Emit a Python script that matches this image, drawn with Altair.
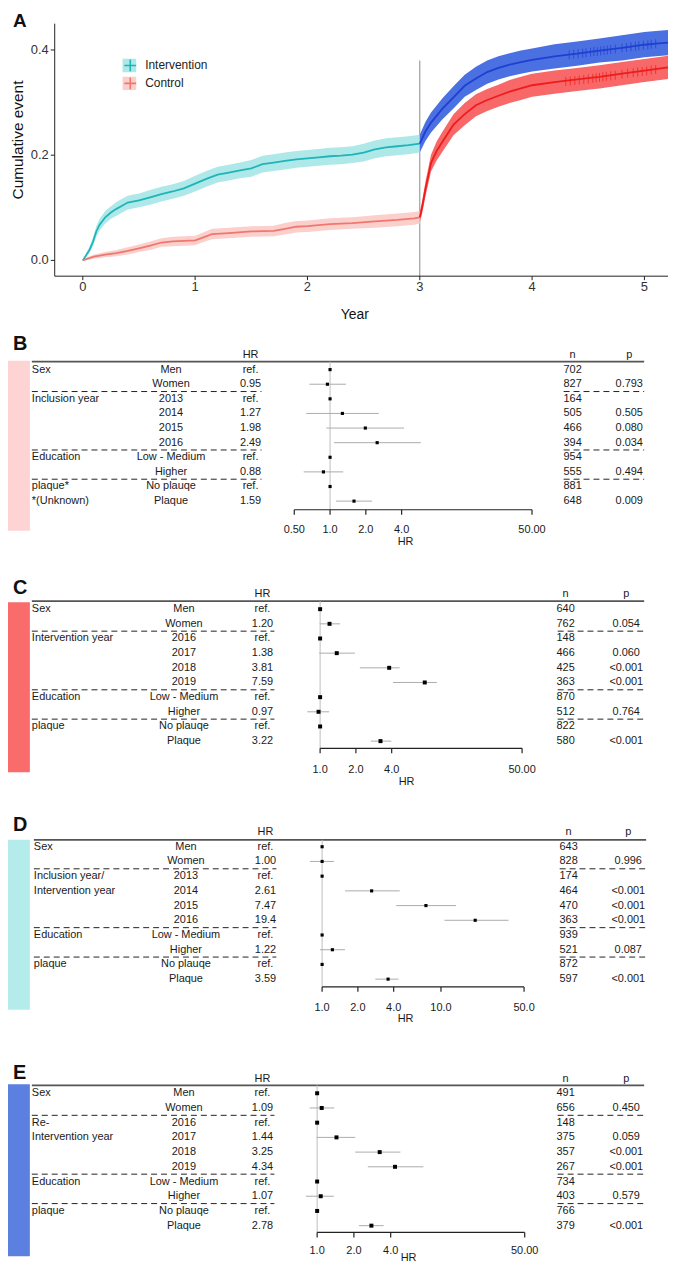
import altair as alt
import pandas as pd

# ---------------- Panel A data ----------------
INT_PRE_T = [0.00,0.03,0.06,0.09,0.12,0.15,0.20,0.25,0.30,0.35,0.40,0.50,0.60,0.70,0.80,0.90,1.00,1.10,1.20,1.30,1.40,1.50,1.60,1.70,1.80,1.90,2.00,2.10,2.20,2.30,2.40,2.50,2.60,2.70,2.80,2.90,3.00]
INT_PRE_Y = [0.000,0.010,0.020,0.035,0.055,0.068,0.082,0.091,0.098,0.104,0.110,0.114,0.120,0.126,0.131,0.137,0.146,0.155,0.163,0.167,0.171,0.175,0.183,0.186,0.189,0.192,0.194,0.196,0.198,0.199,0.201,0.205,0.211,0.215,0.217,0.219,0.222]
INT_PRE_HW = [0.000,0.004,0.006,0.008,0.010,0.011,0.012,0.012,0.013,0.013,0.013,0.013,0.014,0.014,0.014,0.014,0.015,0.015,0.015,0.015,0.015,0.016,0.016,0.016,0.016,0.016,0.016,0.016,0.016,0.016,0.016,0.017,0.017,0.017,0.017,0.017,0.017]

CTL_PRE_T = [0.00,0.05,0.10,0.20,0.30,0.40,0.50,0.60,0.70,0.80,0.90,1.00,1.05,1.15,1.30,1.50,1.70,1.80,1.90,2.00,2.20,2.40,2.60,2.80,2.95,3.00]
CTL_PRE_Y = [0.000,0.004,0.007,0.011,0.014,0.018,0.023,0.028,0.034,0.036,0.037,0.038,0.042,0.050,0.052,0.055,0.056,0.060,0.064,0.065,0.069,0.071,0.074,0.077,0.080,0.082]
CTL_PRE_HW = [0.000,0.003,0.004,0.005,0.006,0.007,0.007,0.008,0.008,0.009,0.009,0.009,0.009,0.010,0.010,0.010,0.010,0.011,0.011,0.011,0.011,0.011,0.012,0.012,0.012,0.012]

INT_POST_T = [3.00,3.05,3.10,3.20,3.30,3.40,3.50,3.60,3.70,3.80,3.90,4.00,4.20,4.40,4.60,4.80,5.00,5.10,5.21]
INT_POST_Y = [0.222,0.245,0.262,0.288,0.310,0.332,0.346,0.358,0.366,0.372,0.377,0.381,0.388,0.393,0.399,0.404,0.410,0.412,0.414]
INT_POST_HW = [0.017,0.018,0.019,0.020,0.021,0.021,0.022,0.022,0.022,0.022,0.022,0.022,0.023,0.023,0.023,0.024,0.024,0.024,0.024]

CTL_POST_T = [3.00,3.02,3.05,3.10,3.15,3.20,3.30,3.40,3.50,3.60,3.70,3.80,3.90,4.00,4.20,4.40,4.60,4.80,5.00,5.21]
CTL_POST_Y = [0.082,0.100,0.135,0.185,0.208,0.225,0.258,0.278,0.295,0.305,0.313,0.321,0.327,0.333,0.339,0.344,0.349,0.355,0.361,0.367]
CTL_POST_HW = [0.010,0.012,0.014,0.016,0.018,0.019,0.020,0.021,0.021,0.021,0.021,0.022,0.022,0.022,0.022,0.022,0.022,0.022,0.022,0.022]

INT_CENS_T = [4.33,4.37,4.41,4.45,4.48,4.52,4.55,4.58,4.61,4.64,4.67,4.70,4.74,4.80,4.84,4.88,4.92,4.95,4.99,5.03,5.06,5.10]
INT_CENS_Y = [0.391,0.392,0.393,0.394,0.395,0.396,0.397,0.397,0.398,0.399,0.400,0.401,0.402,0.404,0.405,0.406,0.407,0.408,0.409,0.410,0.411,0.412]
CTL_CENS_T = [4.30,4.34,4.38,4.42,4.46,4.50,4.54,4.57,4.60,4.63,4.66,4.70,4.74,4.80,4.85,4.90,4.94,4.98,5.02,5.06,5.10]
CTL_CENS_Y = [0.340,0.341,0.342,0.343,0.344,0.345,0.346,0.347,0.348,0.349,0.350,0.351,0.352,0.354,0.356,0.357,0.358,0.359,0.360,0.362,0.363]

VLINE_T = [3.0]
VLINE_TOP = [0.38]
A_XLIM = [-0.25, 5.21]
A_YLIM = [-0.03, 0.45]
A_XTICKS = [0, 1, 2, 3, 4, 5]
A_XLABELS = ["0", "1", "2", "3", "4", "5"]
A_YTICKS = [0.0, 0.2, 0.4]
A_YLABELS = ["0.0", "0.2", "0.4"]

# ---------------- Forest data ----------------
B_C1 = ["Sex", "", "Inclusion year", "", "", "", "Education", "", "plaque*", "*(Unknown)"]
B_C2 = ["Men", "Women", "2013", "2014", "2015", "2016", "Low - Medium", "Higher", "No plauqe", "Plaque"]
B_HR = ["ref.", "0.95", "ref.", "1.27", "1.98", "2.49", "ref.", "0.88", "ref.", "1.59"]
B_N = [702, 827, 164, 505, 466, 394, 954, 555, 881, 648]
B_P = ["", "0.793", "", "0.505", "0.080", "0.034", "", "0.494", "", "0.009"]
B_EST = [1, 0.95, 1, 1.27, 1.98, 2.49, 1, 0.88, 1, 1.59]
B_LO = [None, 0.67, None, 0.63, 0.93, 1.08, None, 0.60, None, 1.12]
B_HI = [None, 1.36, None, 2.57, 4.2, 5.8, None, 1.29, None, 2.25]
B_TICKS = [0.5, 1, 2, 4, 50]
B_TLAB = ["0.50", "1.0", "2.0", "4.0", "50.00"]

C_C1 = ["Sex", "", "Intervention year", "", "", "", "Education", "", "plaque", ""]
C_C2 = ["Men", "Women", "2016", "2017", "2018", "2019", "Low - Medium", "Higher", "No plauqe", "Plaque"]
C_HR = ["ref.", "1.20", "ref.", "1.38", "3.81", "7.59", "ref.", "0.97", "ref.", "3.22"]
C_N = [640, 762, 148, 466, 425, 363, 870, 512, 822, 580]
C_P = ["", "0.054", "", "0.060", "<0.001", "<0.001", "", "0.764", "", "<0.001"]
C_EST = [1, 1.20, 1, 1.38, 3.81, 7.59, 1, 0.97, 1, 3.22]
C_LO = [None, 0.99, None, 0.98, 2.16, 4.1, None, 0.78, None, 2.67]
C_HI = [None, 1.47, None, 1.96, 4.67, 9.6, None, 1.19, None, 3.97]
C_TICKS = [1, 2, 4, 50]
C_TLAB = ["1.0", "2.0", "4.0", "50.00"]

D_C1 = ["Sex", "", "Inclusion year/", "Intervention year", "", "", "Education", "", "plaque", ""]
D_C2 = ["Men", "Women", "2013", "2014", "2015", "2016", "Low - Medium", "Higher", "No plauqe", "Plaque"]
D_HR = ["ref.", "1.00", "ref.", "2.61", "7.47", "19.4", "ref.", "1.22", "ref.", "3.59"]
D_N = [643, 828, 174, 464, 470, 363, 939, 521, 872, 597]
D_P = ["", "0.996", "", "<0.001", "<0.001", "<0.001", "", "0.087", "", "<0.001"]
D_EST = [1, 1.00, 1, 2.61, 7.47, 19.4, 1, 1.22, 1, 3.59]
D_LO = [None, 0.79, None, 1.56, 4.2, 10.7, None, 0.96, None, 2.8]
D_HI = [None, 1.26, None, 4.5, 13.4, 37, None, 1.56, None, 4.4]
D_TICKS = [1, 2, 4, 10, 50]
D_TLAB = ["1.0", "2.0", "4.0", "10.0", "50.0"]

E_C1 = ["Sex", "", "Re-", "Intervention year", "", "", "Education", "", "plaque", ""]
E_C2 = ["Men", "Women", "2016", "2017", "2018", "2019", "Low - Medium", "Higher", "No plauqe", "Plaque"]
E_HR = ["ref.", "1.09", "ref.", "1.44", "3.25", "4.34", "ref.", "1.07", "ref.", "2.78"]
E_N = [491, 656, 148, 375, 357, 267, 734, 403, 766, 379]
E_P = ["", "0.450", "", "0.059", "<0.001", "<0.001", "", "0.579", "", "<0.001"]
E_EST = [1, 1.09, 1, 1.44, 3.25, 4.34, 1, 1.07, 1, 2.78]
E_LO = [None, 0.87, None, 0.99, 2.05, 2.6, None, 0.81, None, 2.2]
E_HI = [None, 1.38, None, 2.05, 4.8, 7.4, None, 1.37, None, 3.5]
E_TICKS = [1, 2, 4, 50]
E_TLAB = ["1.0", "2.0", "4.0", "50.00"]

SEPS = [1, 5, 7]

# ---------------- layout / style ----------------
W, H = 664, 1259
OFF = 8
SANS = "Liberation Sans, Arial, sans-serif"

# ---------------- Panel A ----------------
def sdf(name, t, y, hw):
    return pd.DataFrame({"t": t, "est": y, "hw": hw, "grp": name, "key": name})

dfA = pd.concat([
    sdf("Intervention", INT_PRE_T, INT_PRE_Y, INT_PRE_HW),
    sdf("Control", CTL_PRE_T, CTL_PRE_Y, CTL_PRE_HW),
    sdf("Intervention post", INT_POST_T, INT_POST_Y, INT_POST_HW),
    sdf("Control post", CTL_POST_T, CTL_POST_Y, CTL_POST_HW),
], ignore_index=True)

xA = alt.Scale(domain=A_XLIM, range=[47, 664], nice=False, zero=False)
yA = alt.Scale(domain=A_YLIM, range=[266, 12], nice=False, zero=False)
XA = lambda f: alt.X(f, scale=xA, axis=None)
YA = lambda f: alt.Y(f, scale=yA, axis=None)

leg_common = dict(title=None, orient="none", legendX=115, legendY=47, values=["Intervention", "Control"],
                  symbolSize=196, labelFont=SANS, labelFontSize=12, labelColor="#222",
                  rowPadding=4, padding=0, labelOffset=7, clipHeight=14)

# implicit sorted domain: Control, Control post, Intervention, Intervention post
band = alt.Chart(dfA).transform_calculate(
    lo="datum.est - datum.hw", hi="datum.est + datum.hw"
).mark_area(opacity=1).encode(
    x=XA("t:Q"),
    y=alt.Y("lo:Q", scale=yA, axis=None, stack=None),
    y2="hi:Q",
    fill=alt.Fill("grp:N", scale=alt.Scale(range=["#FBD0CC", "#F86868", "#AEE8E9", "#4A70E2"]),
                  legend=alt.Legend(symbolType="square", symbolStrokeWidth=0, labelExpr="''", **leg_common)),
)

line = alt.Chart(dfA).mark_line(strokeWidth=1.8).encode(
    x=XA("t:Q"),
    y=YA("est:Q"),
    stroke=alt.Stroke("key:N", scale=alt.Scale(range=["#F0776E", "#EE1C1C", "#1EB4B8", "#1F3FD2"]),
                      legend=alt.Legend(symbolType="M-0.85,0H0.85M0,-0.85V0.85", symbolStrokeWidth=1.6,
                                        **leg_common)),
    order="t:Q",
)

vline = alt.Chart(pd.DataFrame({"t": VLINE_T, "top": VLINE_TOP, "bot": [A_YLIM[0]]})).mark_rule(
    color="#8a8a8a", strokeWidth=1).encode(x=XA("t:Q"), y=YA("top:Q"), y2="bot:Q")

cens_int = alt.Chart(pd.DataFrame({"t": INT_CENS_T, "y": INT_CENS_Y})).mark_tick(
    orient="vertical", size=9, thickness=1, color="#1F3FD2").encode(x=XA("t:Q"), y=YA("y:Q"))
cens_ctl = alt.Chart(pd.DataFrame({"t": CTL_CENS_T, "y": CTL_CENS_Y})).mark_tick(
    orient="vertical", size=9, thickness=1, color="#EE1C1C").encode(x=XA("t:Q"), y=YA("y:Q"))

# axes (drawn through the panel's scales)
axdf = pd.DataFrame({"x0": [A_XLIM[0]], "x1": [A_XLIM[1]], "y0": [A_YLIM[0]], "y1": [A_YLIM[1]]})
xdom = alt.Chart(axdf).mark_rule(color="#222", strokeWidth=1).encode(x=XA("x0:Q"), x2="x1:Q", y=YA("y0:Q"))
ydom = alt.Chart(axdf).mark_rule(color="#222", strokeWidth=1).encode(x=XA("x0:Q"), y=YA("y0:Q"), y2="y1:Q")
xt = pd.DataFrame({"t": A_XTICKS, "lab": A_XLABELS})
yt = pd.DataFrame({"v": A_YTICKS, "lab": A_YLABELS})
xticks = alt.Chart(xt).mark_rule(color="#222", strokeWidth=1).encode(
    x=XA("t:Q"), y=alt.value(266), y2=alt.value(270))
xlabs = alt.Chart(xt).mark_text(font=SANS, fontSize=13, color="#333", baseline="middle", align="center").encode(
    x=XA("t:Q"), y=alt.value(277), text="lab:N")
yticks = alt.Chart(yt).mark_rule(color="#222", strokeWidth=1).encode(
    y=YA("v:Q"), x=alt.value(43), x2=alt.value(47))
ylabs = alt.Chart(yt).mark_text(font=SANS, fontSize=13, color="#333", baseline="middle", align="right").encode(
    y=YA("v:Q"), x=alt.value(41), text="lab:N")

one = pd.DataFrame({"v": [1]})
xtitle = alt.Chart(one).mark_text(text="Year", font=SANS, fontSize=14, color="#111", align="center",
                                  baseline="middle").encode(x=alt.value(349), y=alt.value(305))
ytitle = alt.Chart(one).mark_text(text="Cumulative event", font=SANS, fontSize=15.5, color="#111",
                                  align="center", baseline="middle", angle=270).encode(
    x=alt.value(10), y=alt.value(129))
letterA = alt.Chart(one).mark_text(text="A", font=SANS, fontSize=19, fontWeight="bold", align="left",
                                   baseline="top", color="#111").encode(x=alt.value(5), y=alt.value(0))

panelA = alt.layer(vline, band, line, cens_int, cens_ctl, xdom, ydom, xticks, xlabs, yticks, ylabs,
                   xtitle, ytitle, letterA)

# ---------------- Forest panels ----------------
def forest(letter, c1, c2, hr, n, p, est, lo, hi, ticks, tlab, G):
    rows = pd.DataFrame({"row": list(range(10)), "c1": c1, "c2": c2, "hr": hr,
                         "n": [str(v) for v in n], "p": p, "est": est, "lo": lo, "hi": hi})
    ysc = alt.Scale(domain=[0, 9], range=[G["y0"] - OFF, G["y0"] - OFF + 9 * G["step"]], nice=False, zero=False)
    xsc = alt.Scale(type="log", domain=[1, 2], range=[G["ref"] - OFF, G["ref"] - OFF + G["k"]], nice=False)
    Y = lambda f: alt.Y(f, scale=ysc, axis=None)
    X = lambda f: alt.X(f, scale=xsc, axis=None)
    txt = dict(font=SANS, fontSize=11, color="#1a1a1a", baseline="middle")
    base = alt.Chart(rows)
    hdr = alt.Chart(pd.DataFrame({"row": [-1]}))
    L = []
    L.append(alt.Chart(one).mark_rect(color=G["bar"]).encode(
        x=alt.value(0), x2=alt.value(22), y=alt.value(G["bar0"] - OFF), y2=alt.value(G["bar1"] - OFF)))
    L.append(alt.Chart(one).mark_text(text=letter, font=SANS, fontSize=20, fontWeight="bold", align="left",
                                      baseline="alphabetic", color="#111").encode(
        x=alt.value(5), y=alt.value(G["letter"] - OFF)))
    L.append(alt.Chart(one).mark_rule(color="#555", strokeWidth=1.8).encode(
        x=alt.value(G["c1"] - OFF), x2=alt.value(G["right"] - OFF), y=alt.value(G["top"] - OFF)))
    L.append(hdr.mark_text(text="HR", align="center", **txt).encode(x=alt.value(G["hr"] - OFF), y=Y("row:Q")))
    L.append(hdr.mark_text(text="n", align="center", **txt).encode(x=alt.value(G["n"] - OFF), y=Y("row:Q")))
    L.append(hdr.mark_text(text="p", align="center", **txt).encode(x=alt.value(G["p"] - OFF), y=Y("row:Q")))
    L.append(base.mark_text(align="left", **txt).encode(x=alt.value(G["c1"] - OFF), y=Y("row:Q"), text="c1:N"))
    L.append(base.mark_text(align="center", **txt).encode(x=alt.value(G["c2"] - OFF), y=Y("row:Q"), text="c2:N"))
    L.append(base.mark_text(align="center", **txt).encode(x=alt.value(G["hr"] - OFF), y=Y("row:Q"), text="hr:N"))
    L.append(base.mark_text(align="center", **txt).encode(x=alt.value(G["n"] - OFF), y=Y("row:Q"), text="n:N"))
    L.append(base.mark_text(align="center", **txt).encode(x=alt.value(G["p"] - OFF), y=Y("row:Q"), text="p:N"))
    sep = alt.Chart(pd.DataFrame({"after": SEPS})).transform_calculate(ys="datum.after + 0.5")
    L.append(sep.mark_rule(color="#222", strokeWidth=1, strokeDash=[6, 4]).encode(
        x=alt.value(G["c1"] - OFF), x2=alt.value(G["dl"] - OFF), y=Y("ys:Q")))
    L.append(sep.mark_rule(color="#222", strokeWidth=1, strokeDash=[6, 4]).encode(
        x=alt.value(G["dr0"] - OFF), x2=alt.value(G["dr1"] - OFF), y=Y("ys:Q")))
    L.append(alt.Chart(pd.DataFrame({"v": [1]})).mark_rule(color="#bdbdbd", strokeWidth=1).encode(
        x=X("v:Q"), y=alt.value(G["top"] - OFF), y2=alt.value(G["axis"] - OFF)))
    L.append(base.transform_filter("isValid(datum.lo)").mark_rule(color="#ababab", strokeWidth=1).encode(
        x=X("lo:Q"), x2="hi:Q", y=Y("row:Q")))
    L.append(base.mark_square(size=G["pt"], color="#000", opacity=1).encode(x=X("est:Q"), y=Y("row:Q")))
    tk = pd.DataFrame({"tick": ticks, "lab": tlab})
    L.append(alt.Chart(pd.DataFrame({"a0": [ticks[0]], "a1": [ticks[-1]]})).mark_rule(
        color="#222", strokeWidth=1.2).encode(x=X("a0:Q"), x2="a1:Q", y=alt.value(G["axis"] - OFF)))
    L.append(alt.Chart(tk).mark_rule(color="#222", strokeWidth=1.2).encode(
        x=X("tick:Q"), y=alt.value(G["axis"] - OFF), y2=alt.value(G["axis"] - OFF + 5)))
    L.append(alt.Chart(tk).mark_text(align="center", **txt).encode(
        x=X("tick:Q"), y=alt.value(G["tl"] - OFF), text="lab:N"))
    L.append(alt.Chart(one).mark_text(text="HR", align="center", **txt).encode(
        x=alt.value(G["hrt_x"] - OFF), y=alt.value(G["hrt"] - OFF)))
    return alt.layer(*L)

GB = dict(letter=348, top=360, y0=368, step=14.7, axis=509, tl=529, hrt=541, hrt_x=408, ref=332, k=36,
          bar="#FDD3D3", bar0=359, bar1=530, c1=32, c2=172, hr=252, n=576, p=633, right=648,
          dl=263, dr0=567, dr1=648, pt=10)
GC = dict(letter=594, top=601, y0=609, step=14.75, axis=749, tl=771, hrt=783, hrt_x=409, ref=322, k=36,
          bar="#FA6B6B", bar0=602, bar1=773, c1=32, c2=185, hr=264, n=569, p=630, right=648,
          dl=276, dr0=561, dr1=647, pt=16)
GD = dict(letter=832, top=841, y0=848, step=14.8, axis=989, tl=1010, hrt=1021, hrt_x=408, ref=324, k=36,
          bar="#B4EBEB", bar0=841, bar1=1012, c1=34, c2=187, hr=267, n=572, p=632, right=650,
          dl=278, dr0=563, dr1=649, pt=10)
GE = dict(letter=1082, top=1088, y0=1096, step=14.8, axis=1236, tl=1255, hrt=1262, hrt_x=411, ref=319, k=37,
          bar="#5B80E0", bar0=1087, bar1=1260, c1=32, c2=185, hr=264, n=569, p=630, right=648,
          dl=276, dr0=561, dr1=647, pt=16)

panelB = forest("B", B_C1, B_C2, B_HR, B_N, B_P, B_EST, B_LO, B_HI, B_TICKS, B_TLAB, GB)
panelC = forest("C", C_C1, C_C2, C_HR, C_N, C_P, C_EST, C_LO, C_HI, C_TICKS, C_TLAB, GC)
panelD = forest("D", D_C1, D_C2, D_HR, D_N, D_P, D_EST, D_LO, D_HI, D_TICKS, D_TLAB, GD)
panelE = forest("E", E_C1, E_C2, E_HR, E_N, E_P, E_EST, E_LO, E_HI, E_TICKS, E_TLAB, GE)

chart = alt.layer(panelA, panelB, panelC, panelD, panelE).resolve_scale(
    x="independent", y="independent"
).properties(width=W, height=H, padding=0).configure_view(stroke=None)

chart.save("out.html", embed_options={"renderer": "svg", "actions": False})
